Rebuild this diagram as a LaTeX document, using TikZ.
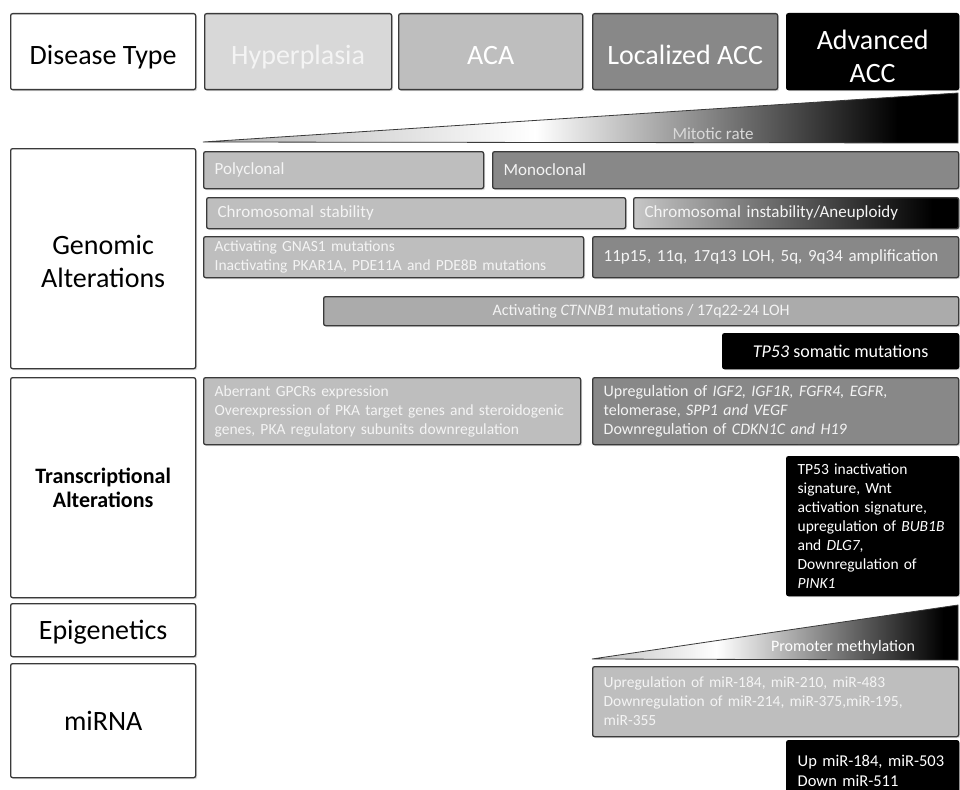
\documentclass[tikz,border=0pt]{standalone}
\usepackage{fontspec}
\setmainfont{Carlito}
\usetikzlibrary{shadows}

\definecolor{paleg}{HTML}{D8D8D8}
\definecolor{lightg}{HTML}{BEBEBE}
\definecolor{midg}{HTML}{ABABAB}
\definecolor{darkg}{HTML}{888888}
\definecolor{edgeg}{HTML}{3A3A3A}
\definecolor{txtg}{HTML}{F4F4F4}

% shadings: the path box maps to 25bp..75bp
\pgfdeclarehorizontalshading{mitoticfade}{100bp}{color(0bp)=(black!30); color(25bp)=(black!30);
  color(47bp)=(white); color(71bp)=(black); color(100bp)=(black)}
\pgfdeclarehorizontalshading{methylfade}{100bp}{color(0bp)=(black!25); color(25bp)=(black!25);
  color(42bp)=(white); color(73bp)=(black); color(100bp)=(black)}
\pgfdeclarehorizontalshading{aneufade}{100bp}{color(0bp)=(black!22); color(25bp)=(black!22);
  color(71bp)=(black); color(100bp)=(black)}

\begin{document}
\begin{tikzpicture}[
    x = 1pt, y = -1pt,
    font = \fontsize{17}{20}\selectfont,
    cell/.style={
      draw = edgeg,
      line width = 1.3pt,
      rounded corners = 2pt,
      anchor = north west,
      inner xsep = 11pt,
      inner ysep = 0pt,
      drop shadow = {shadow xshift=1.5pt, shadow yshift=-1.5pt, opacity=.25},
    },
    head/.style={cell, fill = white, text depth = 0pt,
      font = \fontsize{28}{33}\selectfont},
    toprow/.style={head, text height = 25pt, minimum height = 76pt},
    stack/.style={align = center, text depth = {}, text height = {}},
    bar/.style={cell, text = txtg, align = left},
    dark/.style={cell, fill = black, draw = black, text = white, align = left},
    small/.style={font = \fontsize{15.5}{19}\selectfont},
  ]
  \useasboundingbox[fill = white] (0,0) rectangle (960,789);

  % disease types
  \node[toprow, minimum width=185pt] (dtype) at (10,13) {Disease Type};
  \node[toprow, fill=paleg, text=txtg, minimum width=187pt] (hyper) at (204,13) {Hyperplasia};
  \node[toprow, fill=lightg, text=white, minimum width=184pt] (aca) at (398,13) {ACA};
  \node[toprow, fill=darkg, text=white, minimum width=185pt] (lacc) at (592,13) {Localized ACC};
  \node[toprow, stack, fill=black, draw=black, text=white, minimum width=172pt] (aacc) at (786,13)
    {\rule{0pt}{28pt}Advanced\\ACC};

  % row titles
  \node[head, stack, minimum width=185pt, minimum height=220pt] (genomic) at (10,148)
    {\rule{0pt}{24pt}Genomic\\Alterations};
  \node[head, stack, minimum width=185pt, minimum height=220pt,
    font=\fontsize{22}{24}\selectfont\bfseries] (transc) at (10,377) {Transcriptional\\Alterations};
  \node[head, minimum width=185pt, minimum height=53pt] (epi) at (10,603) {Epigenetics};
  \node[head, minimum width=185pt, minimum height=114pt] (mirna) at (10,663) {miRNA};

  % mitotic rate
  \shade[shading=mitoticfade, draw=edgeg, line width=.8pt] (203,142) -- (958,93) -- (958,143) -- cycle;
  \node[text=black!15] (mitotic) at (713,134) {Mitotic rate};

  % genomic alterations
  \node[bar, fill=lightg, minimum width=280pt, minimum height=37pt, text width=258pt] (poly) at (203,151) {Polyclonal};
  \node[bar, fill=darkg, minimum width=466pt, minimum height=37pt, text width=444pt] (mono) at (492,151) {Monoclonal};
  \node[bar, fill=lightg, minimum width=419pt, minimum height=31pt, text width=397pt] (cstab) at (206,197) {Chromosomal stability};
  \node[bar, shading=aneufade, minimum width=325pt, minimum height=31pt, text width=303pt] (cinst) at (633,197) {Chromosomal instability/Aneuploidy};
  \node[bar, small, fill=lightg, minimum width=380pt, minimum height=41pt, text width=358pt] (gnas) at (203,236)
    {Activating GNAS1 mutations\\Inactivating PKAR1A, PDE11A and PDE8B mutations};
  \node[bar, fill=darkg, minimum width=366pt, minimum height=41pt, text width=344pt] (loh) at (592,236)
    {11p15, 11q, 17q13 LOH, 5q, 9q34 amplification};
  \node[bar, align=center, fill=midg, minimum width=635pt, minimum height=29pt,
    font=\fontsize{16}{19}\selectfont] (ctnnb) at (323,296) {Activating \textit{CTNNB1} mutations / 17q22-24 LOH};
  \node[dark, align=center, minimum width=236pt, minimum height=35pt,
    font=\fontsize{18}{20}\selectfont] (tpmut) at (722,333) {\textit{TP53} somatic mutations};

  % transcriptional alterations
  \node[bar, small, fill=lightg, minimum width=377pt, minimum height=67pt, text width=355pt] (gpcr) at (203,377)
    {Aberrant GPCRs expression\\Overexpression of PKA target genes and steroidogenic\\genes, PKA regulatory subunits downregulation};
  \node[bar, fill=darkg, minimum width=366pt, minimum height=67pt, text width=344pt,
    font=\fontsize{16}{19}\selectfont] (igf) at (592,377)
    {Upregulation of \textit{IGF2, IGF1R, FGFR4, EGFR,}\\telomerase, \textit{SPP1 and VEGF}\\Downregulation of \textit{CDKN1C and H19}};
  \node[dark, small, minimum width=172pt, minimum height=139pt, text width=150pt] (tpsig) at (786,456)
    {TP53 inactivation\\signature, Wnt\\activation signature,\\upregulation of \textit{BUB1B}\\and \textit{DLG7},\\Downregulation of\\\textit{PINK1}};

  % epigenetics
  \shade[shading=methylfade, draw=edgeg, line width=.8pt] (592,659) -- (958,605) -- (958,660) -- cycle;
  \node[text=white, font=\fontsize{16}{19}\selectfont] (methyl) at (843,647) {Promoter methylation};

  % miRNA
  \node[bar, small, fill=lightg, minimum width=366pt, minimum height=70pt, text width=344pt] (mirup) at (592,666)
    {Upregulation of miR-184, miR-210, miR-483\\Downregulation of miR-214, miR-375,miR-195,\\miR-355};
  \node[dark, minimum width=172pt, minimum height=60pt, text width=150pt,
    font=\fontsize{16.5}{20}\selectfont] (mirdn) at (786,740) {Up miR-184, miR-503\\Down miR-511};
\end{tikzpicture}
\end{document}
